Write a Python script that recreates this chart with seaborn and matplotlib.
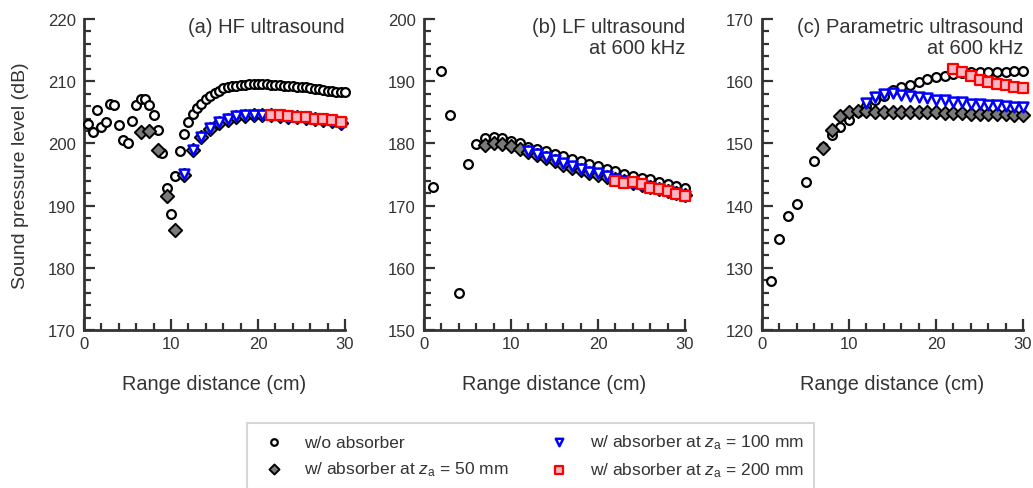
"""
Sound pressure level vs range distance, three ultrasound cases.
"""

import numpy as np
import pandas as pd
import matplotlib
matplotlib.use('Agg')
import matplotlib.pyplot as plt
from matplotlib.ticker import MultipleLocator
import seaborn as sns

# ---- data ----

# (a) HF ultrasound
a_circ_x = np.arange(0.5, 30.01, 0.5)
a_circ_y = [203.1, 201.8, 205.4, 202.6, 203.4, 206.4, 206.1, 202.9, 200.6, 200.0,
            203.6, 206.2, 207.1, 207.1, 206.2, 204.6, 202.2, 198.4, 192.8, 188.6,
            194.7, 198.8, 201.5, 203.4, 204.7, 205.7, 206.4, 207.1, 207.7, 208.1,
            208.5, 208.9, 209.1, 209.2, 209.3, 209.4, 209.4, 209.5, 209.5, 209.5,
            209.5, 209.5, 209.4, 209.4, 209.4, 209.3, 209.3, 209.2, 209.1, 209.1,
            209.0, 208.9, 208.8, 208.7, 208.6, 208.5, 208.4, 208.3, 208.3, 208.2]
a_diam_x = np.arange(6.5, 29.51, 1.0)
a_diam_y = [201.9, 202.0, 199.0, 191.6, 186.1, 195.0, 198.9, 201.0, 202.3, 203.3,
            203.8, 204.3, 204.4, 204.5, 204.5, 204.5, 204.4, 204.3, 204.2, 204.1,
            203.9, 203.8, 203.6, 203.3]
a_tri_x = np.arange(11.5, 29.51, 1.0)
a_tri_y = [195.1, 199.0, 201.1, 202.4, 203.4, 203.9, 204.4, 204.5, 204.6, 204.6,
           204.5, 204.4, 204.3, 204.2, 204.1, 203.9, 203.8, 203.6, 203.3]
a_sq_x = np.arange(21.5, 29.51, 1.0)
a_sq_y = [204.6, 204.5, 204.4, 204.3, 204.2, 204.0, 203.9, 203.7, 203.4]

# (b) LF ultrasound at 600 kHz
b_circ_x = np.arange(1, 31)
b_circ_y = [173.0, 191.6, 184.6, 156.0, 176.7, 179.9, 180.8, 181.0, 180.8, 180.4,
            180.0, 179.5, 179.1, 178.7, 178.3, 177.9, 177.5, 177.1, 176.7, 176.3,
            175.9, 175.5, 175.1, 174.8, 174.5, 174.2, 173.8, 173.5, 173.2, 172.8]
b_diam_x = np.arange(7, 31)
b_diam_y = [179.7, 180.1, 179.9, 179.6, 179.1, 178.6, 178.1, 177.6, 177.1, 176.6,
            176.1, 175.7, 175.2, 175.0, 174.6, 174.2, 173.9, 173.6, 173.3, 173.0,
            172.7, 172.4, 172.1, 171.7]
b_tri_x = np.arange(12, 31)
b_tri_y = [178.8, 178.3, 177.8, 177.3, 176.8, 176.3, 175.9, 175.4, 175.2, 174.8,
           174.3, 174.0, 173.7, 173.3, 173.0, 172.7, 172.4, 172.0, 171.6]
b_sq_x = np.arange(22, 31)
b_sq_y = [174.0, 173.7, 173.8, 173.4, 172.8, 172.7, 172.4, 171.9, 171.6]

# (c) Parametric ultrasound at 600 kHz
c_circ_x = np.arange(1, 31)
c_circ_y = [127.8, 134.7, 138.3, 140.2, 143.8, 147.2, 149.4, 151.4, 152.7, 153.8,
            155.0, 156.0, 156.9, 157.7, 158.6, 159.0, 159.4, 159.9, 160.4, 160.6,
            160.9, 161.2, 161.3, 161.4, 161.4, 161.5, 161.5, 161.5, 161.6, 161.6]
c_diam_x = np.arange(7, 31)
c_diam_y = [149.3, 152.2, 154.4, 155.1, 155.2, 155.2, 155.1, 155.1, 155.1, 155.0,
            155.0, 155.0, 155.0, 155.0, 154.9, 154.9, 154.9, 154.8, 154.8, 154.8,
            154.7, 154.7, 154.6, 154.5]
c_tri_x = np.arange(12, 31)
c_tri_y = [156.5, 157.4, 157.9, 158.1, 157.8, 157.6, 157.4, 157.3, 157.0, 156.9,
           156.7, 156.6, 156.4, 156.3, 156.2, 156.1, 156.0, 155.9, 155.8]
c_sq_x = np.arange(22, 31)
c_sq_y = [162.0, 161.5, 160.8, 160.2, 159.9, 159.6, 159.4, 159.1, 158.9]

PANELS = [
    ('(a) HF ultrasound', (170, 220),
     (a_circ_x, a_circ_y), (a_diam_x, a_diam_y), (a_tri_x, a_tri_y), (a_sq_x, a_sq_y)),
    ('(b) LF ultrasound\nat 600 kHz', (150, 200),
     (b_circ_x, b_circ_y), (b_diam_x, b_diam_y), (b_tri_x, b_tri_y), (b_sq_x, b_sq_y)),
    ('(c) Parametric ultrasound\nat 600 kHz', (120, 170),
     (c_circ_x, c_circ_y), (c_diam_x, c_diam_y), (c_tri_x, c_tri_y), (c_sq_x, c_sq_y)),
]

LABELS = ['w/o absorber',
          r'w/ absorber at $\mathit{z}_\mathrm{a}$ = 50 mm',
          r'w/ absorber at $\mathit{z}_\mathrm{a}$ = 100 mm',
          r'w/ absorber at $\mathit{z}_\mathrm{a}$ = 200 mm']

STYLES = [
    dict(marker='o', s=40, color='white', edgecolor='black', linewidth=1.6),
    dict(marker='D', s=46, color='#7a7a7a', edgecolor='black', linewidth=1.4),
    dict(marker='v', s=50, color='white', edgecolor='#0000ff', linewidth=1.8),
    dict(marker='s', s=52, color='#f7b8c4', edgecolor='#ff0000', linewidth=1.6),
]

TEXT = '#333333'

sns.set_theme(style='ticks')
plt.rcParams['font.family'] = ['Liberation Sans', 'DejaVu Sans']
plt.rcParams['mathtext.fontset'] = 'custom'
plt.rcParams['mathtext.rm'] = 'Liberation Sans'
plt.rcParams['mathtext.it'] = 'Liberation Sans:italic'
plt.rcParams['text.color'] = TEXT
plt.rcParams['axes.labelcolor'] = TEXT

fig = plt.figure(figsize=(10.33, 4.89), dpi=100)

W, H = 1033, 489
lefts = [84, 424, 762]
axes = []
for left, (title, ylim, *series) in zip(lefts, PANELS):
    ax = fig.add_axes([left / W, 1 - 331 / H, 261 / W, 311 / H])
    for (xs, ys), style, label in zip(series, STYLES, LABELS):
        df = pd.DataFrame({'x': xs, 'y': ys})
        sns.scatterplot(data=df, x='x', y='y', ax=ax, label=label, legend=False,
                        zorder=3, clip_on=False, **style)

    ax.set_xlim(0, 30)
    ax.set_ylim(*ylim)
    ax.xaxis.set_major_locator(MultipleLocator(10))
    ax.xaxis.set_minor_locator(MultipleLocator(2))
    ax.yaxis.set_major_locator(MultipleLocator(10))
    ax.yaxis.set_minor_locator(MultipleLocator(2))
    ax.tick_params(which='both', direction='in', color='#333333', width=1.6,
                   labelsize=12, labelcolor=TEXT)
    ax.tick_params(which='major', length=8)
    ax.tick_params(which='minor', length=5)
    ax.tick_params(axis='y', pad=6)
    ax.tick_params(axis='x', pad=4)
    sns.despine(ax=ax)
    for side in ['left', 'bottom']:
        ax.spines[side].set_linewidth(2.0)
        ax.spines[side].set_color('#333333')

    ax.set_xlabel('Range distance (cm)', fontsize=14.3)
    ax.xaxis.set_label_coords(0.5, -0.14)
    ax.set_ylabel('')
    ax.text(1.0, 1.005, title, transform=ax.transAxes, ha='right', va='top',
            fontsize=14.5, linespacing=1.1, color=TEXT)
    axes.append(ax)

axes[0].set_ylabel('Sound pressure level (dB)', fontsize=14)
axes[0].yaxis.set_label_coords(-0.21, 0.5)

handles, labels = axes[0].get_legend_handles_labels()
leg = fig.legend(handles, labels, ncol=2, loc='upper left',
                 bbox_to_anchor=(247 / W, 1 - 424 / H), fontsize=12.5,
                 frameon=True, fancybox=False, edgecolor='#cccccc',
                 markerscale=0.75, handletextpad=0.75, columnspacing=1.9,
                 borderpad=0.55, labelspacing=0.55, borderaxespad=0)
leg.get_frame().set_linewidth(1.5)

fig.savefig('out.png', dpi=100)
